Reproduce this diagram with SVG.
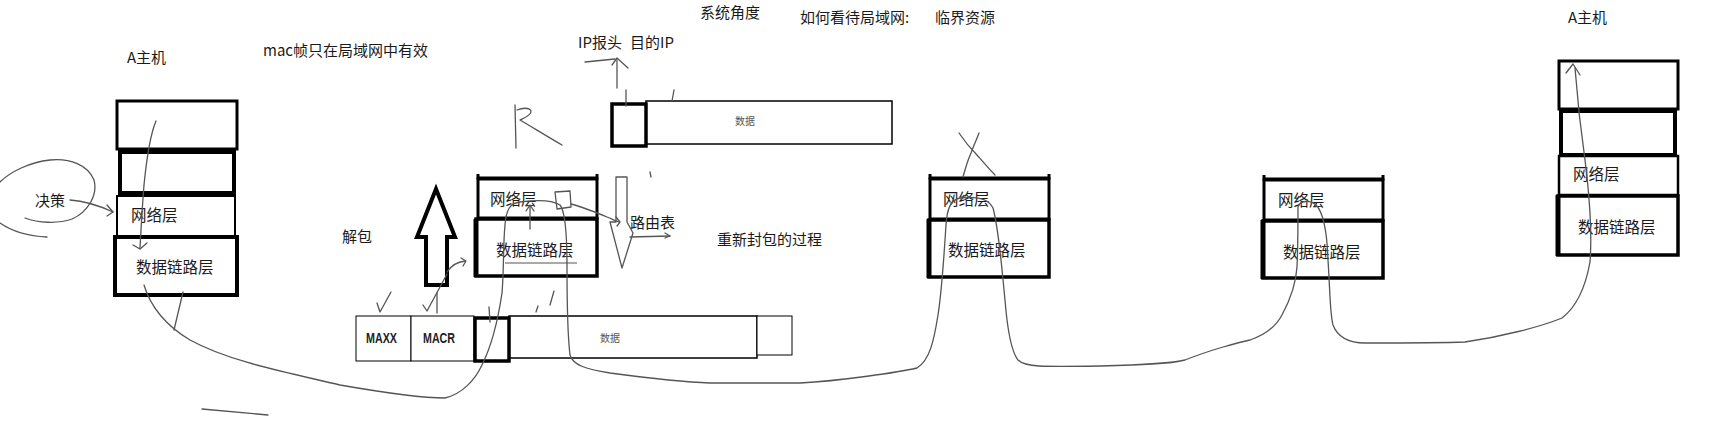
<svg xmlns="http://www.w3.org/2000/svg" width="1713" height="440" viewBox="0 0 1713 440">
<style>
  text { font-family: "Noto Sans CJK SC", "Noto Sans", sans-serif; font-size: 15px; fill: #1a1a1a; }
  .lbl { font-size: 15.5px; }
  .small { font-size: 10px; fill: #555; }
  .mac { font-family: "Liberation Sans", Arial, sans-serif; font-weight: bold; font-size: 14px; fill: #222; }
  .box { fill: #fff; stroke: #000; }
  .thin { fill: none; stroke: #555; stroke-width: 1.2; }
  .hand { fill: none; stroke: #555; stroke-width: 1.3; stroke-linecap: round; stroke-linejoin: round; }
  .bold { fill: #fff; stroke: #000; stroke-width: 4; stroke-linejoin: miter; }
</style>
<rect width="1713" height="440" fill="#fff"/>

<!-- Texts -->
<g id="titles">
  <text x="127" y="63">A主机</text>
  <text x="263" y="56">mac帧只在局域网中有效</text>
  <text x="700" y="18">系统角度</text>
  <text x="800" y="23">如何看待局域网:</text>
  <text x="935" y="23">临界资源</text>
  <text x="578" y="48">IP报头</text>
  <text x="630" y="48">目的IP</text>
  <text x="342" y="242">解包</text>
  <text x="630" y="228">路由表</text>
  <text x="717" y="245">重新封包的过程</text>
  <text x="35" y="206">决策</text>
  <text x="1568" y="23">A主机</text>
</g>

<!-- Left host A -->
<g id="hostA-left">
  <rect class="box" x="117" y="101" width="120" height="48" stroke-width="3"/>
  <rect class="box" x="120" y="152" width="114" height="41" stroke-width="4"/>
  <rect class="box" x="117" y="196" width="118" height="40" stroke-width="2"/>
  <rect class="box" x="115" y="237" width="122" height="58" stroke-width="4"/>
  <text class="lbl" x="131" y="221">网络层</text>
  <text class="lbl" x="136" y="273">数据链路层</text>
</g>

<!-- Router 1 -->
<g id="router1">
  <path d="M478,174 L478,178 L597,178 L597,174" fill="none" stroke="#000" stroke-width="3"/>
  <rect class="box" x="478" y="179" width="119" height="39" stroke-width="3"/>
  <rect class="box" x="476" y="219" width="121" height="57" stroke-width="3.5"/>
  <line x1="476" y1="219" x2="476" y2="277" stroke="#000" stroke-width="5"/>
  <text class="lbl" x="490" y="205">网络层</text>
  <text class="lbl" x="496" y="256">数据链路层</text>
</g>

<!-- Router 2 -->
<g id="router2">
  <path d="M930,174 L930,178 L1049,178 L1049,174" fill="none" stroke="#000" stroke-width="3"/>
  <rect class="box" x="930" y="179" width="119" height="40" stroke-width="3"/>
  <rect class="box" x="929" y="220" width="120" height="57" stroke-width="3.5"/>
  <line x1="929" y1="219" x2="929" y2="278" stroke="#000" stroke-width="5"/>
  <text class="lbl" x="943" y="205">网络层</text>
  <text class="lbl" x="948" y="256">数据链路层</text>
</g>

<!-- Router 3 -->
<g id="router3">
  <path d="M1264,175 L1264,179 L1383,179 L1383,175" fill="none" stroke="#000" stroke-width="3"/>
  <rect class="box" x="1264" y="180" width="119" height="40" stroke-width="3"/>
  <rect class="box" x="1263" y="221" width="120" height="57" stroke-width="3.5"/>
  <line x1="1263" y1="220" x2="1263" y2="279" stroke="#000" stroke-width="5"/>
  <text class="lbl" x="1278" y="206">网络层</text>
  <text class="lbl" x="1283" y="258">数据链路层</text>
</g>

<!-- Right host A -->
<g id="hostA-right">
  <rect class="box" x="1559" y="61" width="119" height="48" stroke-width="3"/>
  <rect class="box" x="1561" y="111" width="114" height="44" stroke-width="4"/>
  <rect class="box" x="1559" y="156" width="119" height="39" stroke-width="2.5"/>
  <rect class="box" x="1558" y="196" width="120" height="59" stroke-width="3.5"/>
  <line x1="1558" y1="195" x2="1558" y2="256" stroke="#000" stroke-width="5"/>
  <text class="lbl" x="1573" y="180">网络层</text>
  <text class="lbl" x="1578" y="233">数据链路层</text>
</g>

<!-- IP packet (top) -->
<g id="ip-packet">
  <rect class="box" x="646" y="101" width="246" height="43" stroke="#333" stroke-width="1.5"/>
  <rect class="box" x="612" y="104" width="34" height="42" stroke-width="3.5"/>
  <text class="small" x="735" y="125">数据</text>
</g>

<!-- MAC frame (bottom) -->
<g id="mac-frame">
  <rect class="box" x="356" y="316" width="55" height="45" stroke="#444" stroke-width="1"/>
  <rect class="box" x="411" y="316" width="63" height="45" stroke="#444" stroke-width="1"/>
  <rect class="box" x="509" y="316" width="248" height="42" stroke="#333" stroke-width="1.5"/>
  <rect class="box" x="757" y="316" width="35" height="39" stroke="#444" stroke-width="1"/>
  <rect class="box" x="475" y="318" width="34" height="43" stroke-width="3.5"/>
  <text class="mac" x="366" y="343" textLength="31" lengthAdjust="spacingAndGlyphs">MAXX</text>
  <text class="mac" x="423" y="343" textLength="32" lengthAdjust="spacingAndGlyphs">MACR</text>
  <text class="small" x="600" y="342">数据</text>
</g>

<!-- Big hollow up arrow (解包) -->
<g id="unpack-arrow">
  <path class="bold" d="M436,189 L455,237 L447,237 L447,285 L426,285 L426,237 L417,237 Z"/>
</g>

<!-- Thin hollow down arrow -->
<g id="repack-arrow">
  <path d="M616,177 L627,177 L627,222 L633,233 L622,268 L610,222 L616,222 Z" fill="#fff" stroke="#555" stroke-width="1.3" stroke-linejoin="round"/>
</g>

<!-- Connectors / hand strokes -->
<g id="connectors">
  <!-- 决策 loop -->
  <path class="hand" d="M0,182 C10,172 30,162 50,160 C70,158 88,165 94,180 C98,195 88,212 72,219 C58,224 38,223 25,218"/>
  <path class="hand" d="M0,223 C10,230 25,236 47,237"/>
  <!-- 决策 -> 网络层 -->
  <path class="hand" d="M70,200 C85,201 100,206 113,212"/>
  <path class="hand" d="M107,205 L113,212 L107,216"/>
  <!-- left host down stroke -->
  <path class="hand" d="M156,121 C150,135 147,155 144,185 C142,210 141,230 140,248"/>
  <path class="hand" d="M133,245 L140,249 L147,243"/>
  <path class="hand" d="M183,292 L174,330"/>
  <!-- main long curve: left host to router1 and on to right host -->
  <path class="hand" d="M144,285 C150,305 165,325 190,340 C230,362 290,373 340,385 C380,392 420,398 445,398 C462,394 475,380 482,365 C492,345 498,320 502,293 C504,270 503,245 505,225 C506,210 510,203 520,202 C535,200 552,200 560,205 C566,212 567,240 567,267 C567,300 567,330 570,355 C573,365 585,369 610,373 C640,377 680,382 710,383 C760,383 790,383 800,383 C840,381 900,372 917,368 C930,360 934,340 938,315 C942,290 944,255 946,225 C947,210 950,200 960,198 C975,196 988,198 993,208 C999,230 1002,270 1005,300 C1007,325 1010,350 1018,360 C1025,367 1040,367 1100,366 C1140,365 1170,364 1185,360 C1210,350 1240,342 1250,340 C1262,336 1275,328 1282,315 C1290,300 1296,285 1297,267 C1298,245 1298,220 1298,207 C1300,200 1310,200 1316,205 C1323,212 1327,230 1328,260 C1330,290 1330,315 1333,325 C1338,338 1350,343 1365,343 C1400,343 1440,343 1465,342 C1500,337 1540,327 1562,318 C1575,308 1585,290 1590,262 C1592,235 1590,200 1585,160 C1580,125 1577,95 1575,68"/>
  <path class="hand" d="M1566,73 L1573,64 L1580,75"/>
  <!-- router1 inner up arrow -->
  <path class="hand" d="M530,229 L530,206"/>
  <path class="hand" d="M526,211 L530,205 L534,211"/>
  <!-- hand-drawn square + arrow to 路由表 -->
  <path class="hand" d="M555,192 L570,191 L571,207 L557,209 Z"/>
  <path class="hand" d="M571,204 C580,206 595,212 607,217 C612,219 616,221 619,222"/>
  <path class="hand" d="M616,217 L620,222 L617,226"/>
  <!-- underline in router1 -->
  <path class="thin" d="M505,263 L577,263"/>
  <!-- arrow right under 路由表 -->
  <path class="hand" d="M630,237 L670,236"/>
  <path class="hand" d="M665,233 L670,236 L665,238"/>
  <!-- arrow up to IP报头 -->
  <path class="hand" d="M617,88 L617,60"/>
  <path class="hand" d="M612,65 L617,58 L628,68"/>
  <path class="hand" d="M585,62 C595,61 605,60 615,59"/>
  <path class="hand" d="M626,90 L626,106"/>
  <path class="hand" d="M674,90 L672,101"/>
  <!-- R mark -->
  <path class="hand" d="M515,105 L516,148"/>
  <path class="hand" d="M517,110 C522,108 529,107 531,111 C532,115 524,118 520,120 C532,127 548,137 562,145"/>
  <!-- small arrow big arrow -> router1 -->
  <path class="hand" d="M447,272 C451,266 456,262 465,261"/>
  <path class="hand" d="M461,258 L466,261 L463,266"/>
  <!-- checkmarks -->
  <path class="hand" d="M377,303 L380,312 L391,292"/>
  <path class="hand" d="M423,305 L427,311 L440,287 L447,274"/>
  <path class="hand" d="M437,293 L437,313"/>
  <!-- small ticks -->
  <path class="hand" d="M489,307 L490,322"/>
  <path class="hand" d="M536,312 L538,306"/>
  <path class="hand" d="M550,305 L554,291"/>
  <path class="hand" d="M650,172 L651,177"/>
  <!-- X above router2 -->
  <path class="hand" d="M959,133 C965,142 972,150 977,155 C984,163 990,170 995,175"/>
  <path class="hand" d="M979,133 C976,141 973,147 971,153 C967,162 965,170 963,177"/>
  <!-- short line bottom left -->
  <path class="hand" d="M202,409 L268,415"/>
</g>
</svg>
